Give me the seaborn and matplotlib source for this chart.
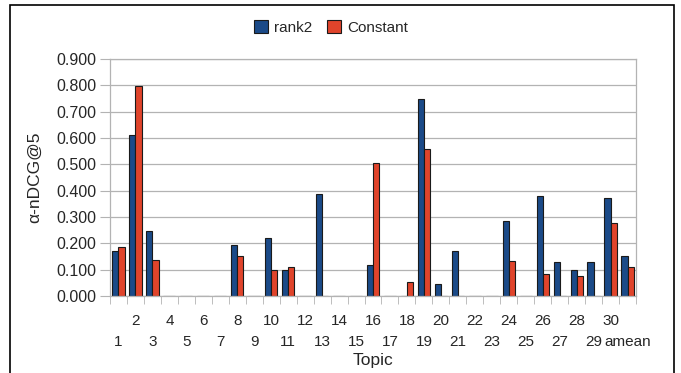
import pandas as pd
import numpy as np
import matplotlib.pyplot as plt
import seaborn as sns
from matplotlib.patches import Rectangle

# values
topics = [str(i) for i in range(1, 31)] + ["amean"]
rank2 = [0.170, 0.613, 0.248, 0, 0, 0, 0, 0.192, 0, 0.219,
         0.099, 0, 0.387, 0, 0, 0.118, 0, 0, 0.748, 0.044,
         0.170, 0, 0, 0.286, 0, 0.378, 0.128, 0.100, 0.128, 0.373,
         0.151]
constant = [0.187, 0.799, 0.137, 0, 0, 0, 0, 0.151, 0, 0.099,
            0.109, 0, 0, 0, 0, 0.506, 0, 0.053, 0.558, 0,
            0, 0, 0, 0.133, 0, 0.082, 0, 0.077, 0, 0.276,
            0.109]
series = ["rank2", "Constant"]
colors = ["#1b4a88", "#e0442b"]

df = pd.DataFrame({
    "Topic": topics * 2,
    "value": rank2 + constant,
    "series": ["rank2"] * len(topics) + ["Constant"] * len(topics),
})

sns.set_style("white")
plt.rcParams['font.family'] = ['Liberation Sans', 'DejaVu Sans']

fig = plt.figure(figsize=(6.81, 3.73), dpi=100)
ax = fig.add_axes([110 / 681, 77 / 373, 526 / 681, 237 / 373])

sns.barplot(data=df, x="Topic", y="value", hue="series", hue_order=series,
            palette=colors, width=0.72, edgecolor="#1a1a1a", linewidth=0.8,
            saturation=1, ax=ax)

ax.set_ylim(0, 0.9)
ax.set_yticks(np.arange(0, 0.91, 0.1))
ax.set_yticklabels([f"{v:.3f}" for v in np.arange(0, 0.91, 0.1)], fontsize=11.5)
ax.yaxis.grid(True, color="#b3b3b3", linewidth=0.9)
ax.set_axisbelow(True)
ax.tick_params(axis="y", length=7, color="#b3b3b3", pad=3, left=True)

# staggered x labels: upper row on the main axis, lower row on a second one
pos = np.arange(len(topics))
ax.set_xticks(pos[1::2])
ax.set_xticklabels(topics[1::2], fontsize=11)
ax.tick_params(axis="x", length=0, pad=13)
ax.set_xticks(np.arange(-0.5, len(topics), 1), minor=True)
ax.tick_params(axis="x", which="minor", length=6, color="#b3b3b3", bottom=True)
ax.set_xlim(-0.5, len(topics) - 0.5)

low = ax.secondary_xaxis("bottom")
low.set_xticks(pos[0::2])
low.set_xticklabels(topics[0::2], fontsize=11)
low.tick_params(axis="x", length=0, pad=28)
low.spines["bottom"].set_visible(False)

for s in ax.spines.values():
    s.set_color("#b3b3b3")
    s.set_linewidth(0.9)

ax.set_xlabel("")
low.set_xlabel("Topic", fontsize=12.5, labelpad=3)
ax.set_ylabel("α-nDCG@5", fontsize=12.5, labelpad=10)

ax.legend(loc="lower center", bbox_to_anchor=(0.42, 1.045), ncol=2, frameon=False,
          fontsize=11, handlelength=0.9, handleheight=0.9, columnspacing=1.0,
          handletextpad=0.4)

fig.patches.append(Rectangle((10 / 681, -0.02), 664 / 681, 1.02 - 5 / 373,
                             transform=fig.transFigure, fill=False,
                             edgecolor="black", linewidth=1.2))

plt.savefig("out.png", dpi=100)
